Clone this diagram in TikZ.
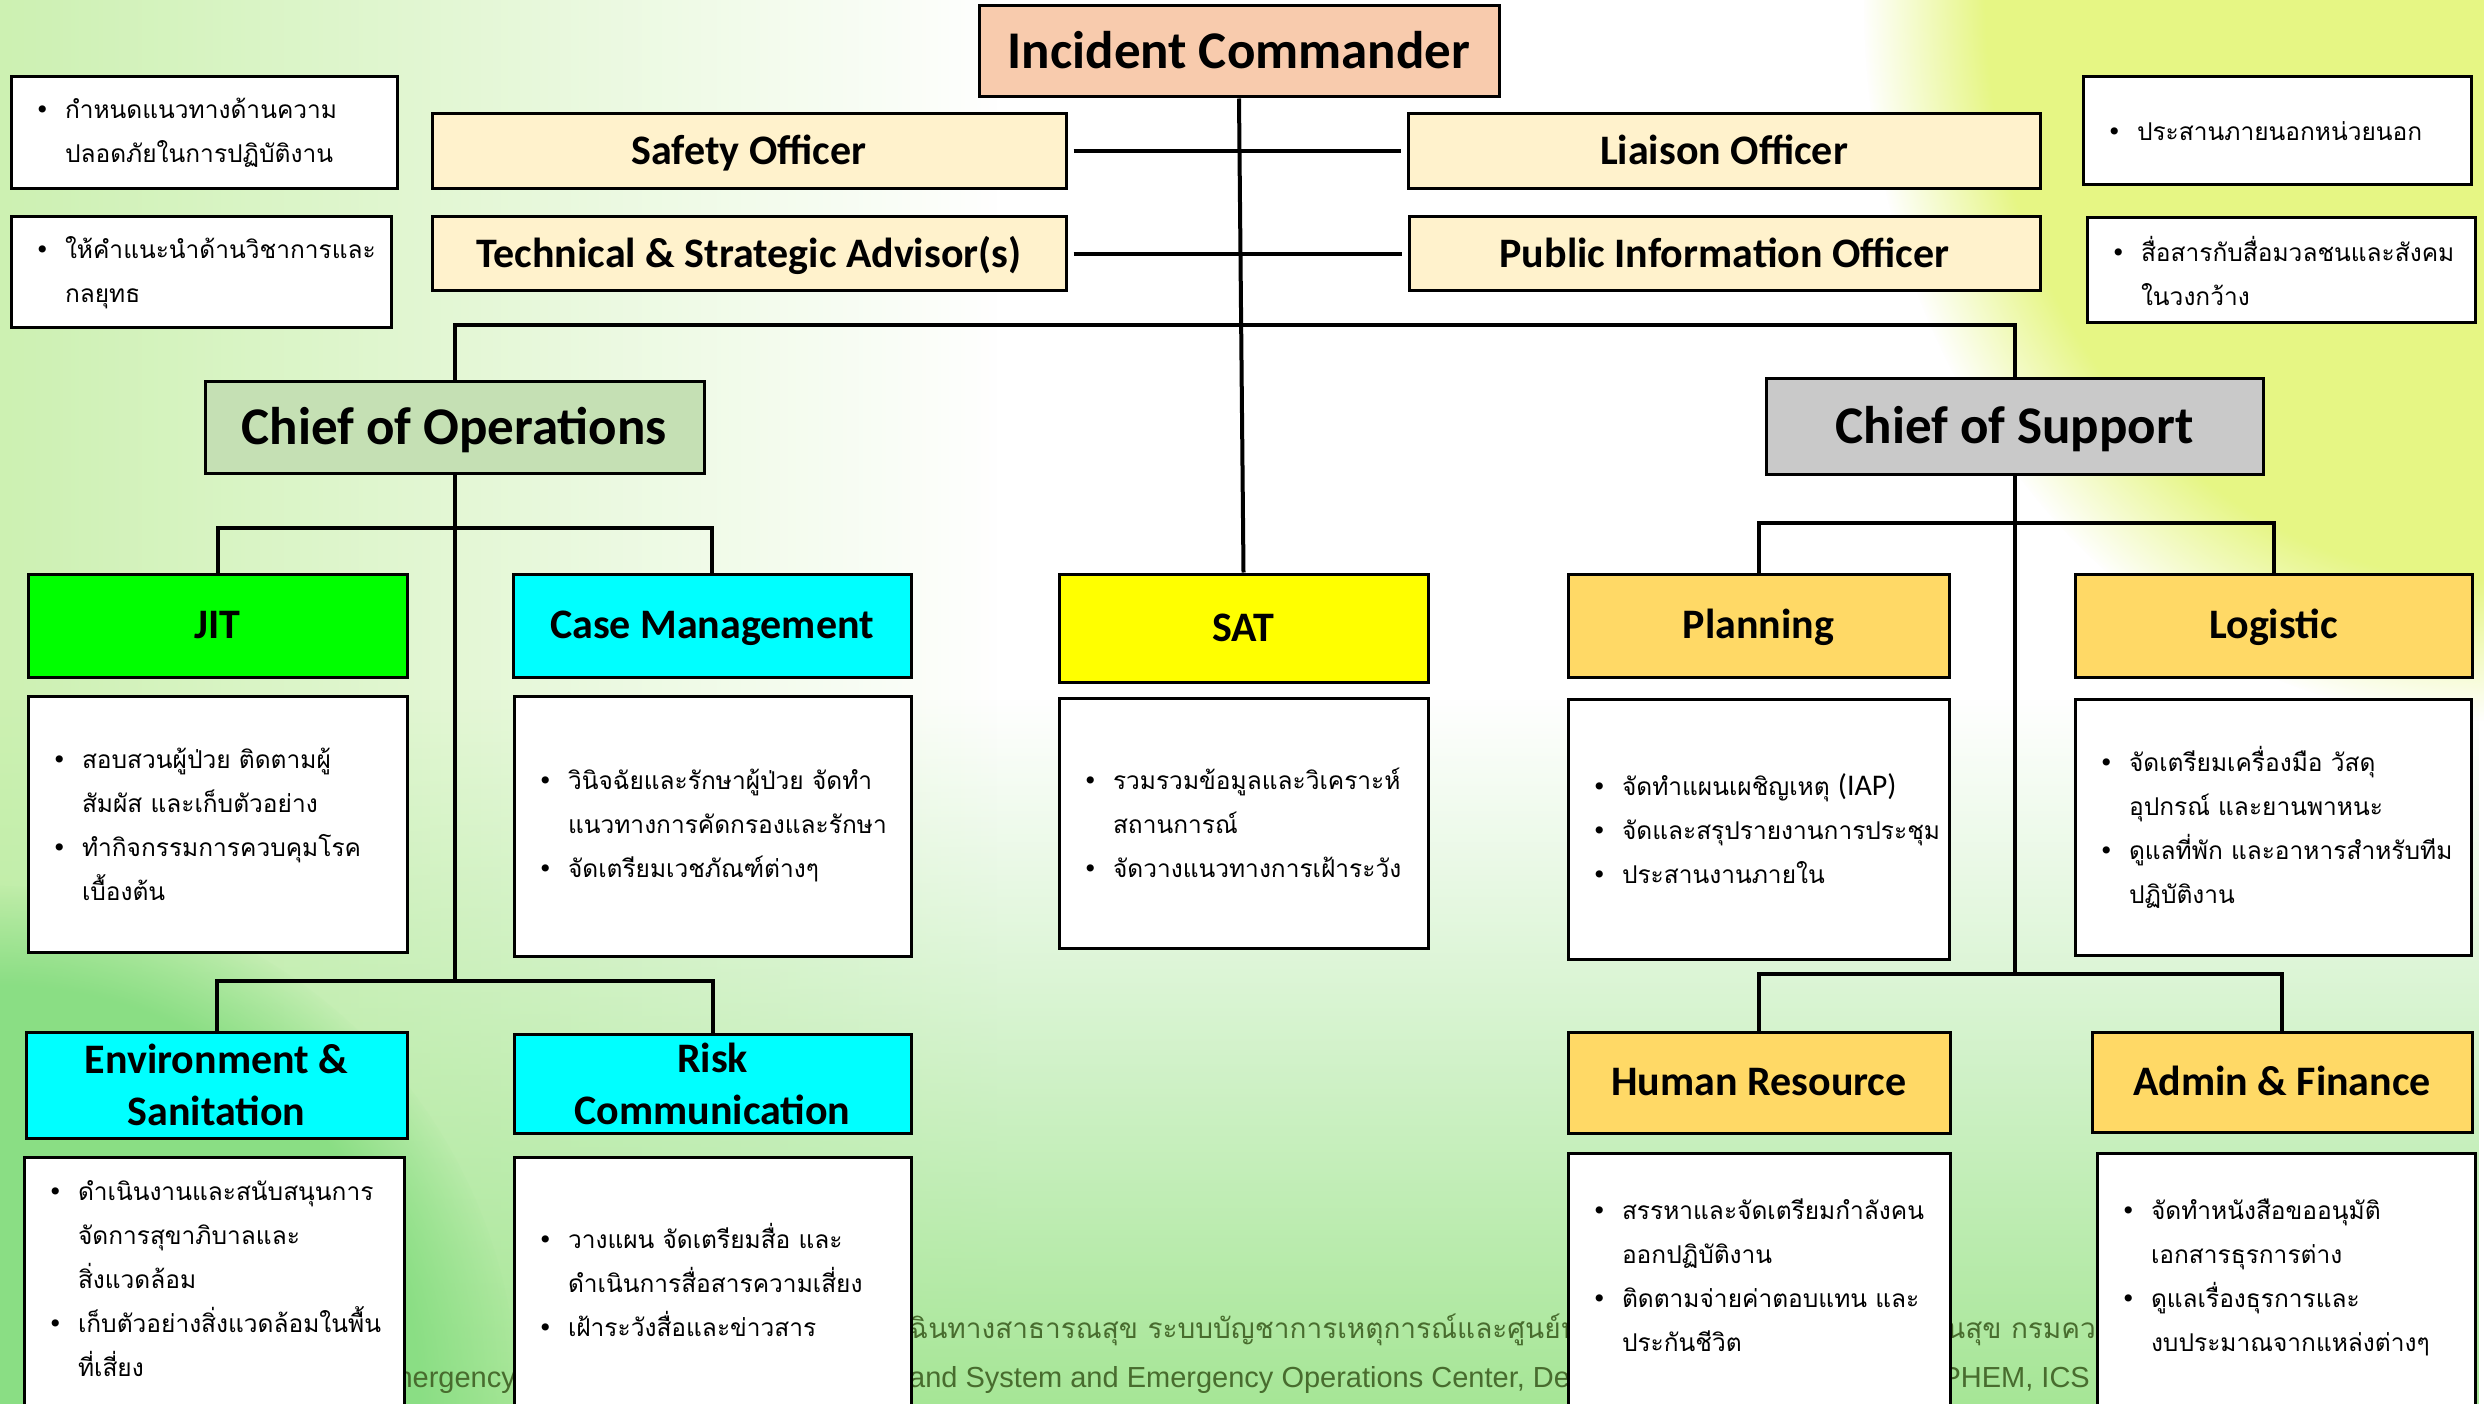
\documentclass[tikz,border=0pt]{standalone}
\usepackage{fontspec}
\setmainfont{Carlito}
\newfontfamily\thaifont[Script=Thai]{Loma}
\newfontfamily\footfont{Liberation Sans}
\newfontfamily\dotfont{DejaVu Sans}
\usepackage{tikz}
\usetikzlibrary{fadings}

\definecolor{peach}{HTML}{F8CBAD}
\definecolor{cream}{HTML}{FFF2CC}
\definecolor{sage}{HTML}{C5E0B4}
\definecolor{greybox}{HTML}{C9C9C9}
\definecolor{amber}{HTML}{FFD966}
\definecolor{lime}{HTML}{00FF00}
\definecolor{aqua}{HTML}{00FFFF}
\definecolor{lemon}{HTML}{FFFF00}
\definecolor{footgreen}{RGB}{72,108,46}
\definecolor{bgleft}{HTML}{CDF1B2}
\definecolor{bgright}{HTML}{E6F684}
\definecolor{bgbottom}{HTML}{A6E696}
\definecolor{bgdeep}{HTML}{8ADE84}

\newcommand{\bl}{\makebox[30pt][l]{\dotfont •}}
\newcommand{\hg}{\hspace*{30pt}}
\newcommand{\iap}{{\rmfamily\fontsize{30}{44}\selectfont(IAP)}}

\begin{document}
\begin{tikzpicture}[x=1pt, y=-1pt,
  box/.style 2 args={draw, line width=3pt, minimum width=#1pt, minimum height=#2pt, inner sep=0pt, align=center},
  big/.style={font=\fontsize{53}{60}\selectfont\bfseries, text height=40pt, text depth=6.5pt},
  mid/.style={font=\fontsize{42}{52}\selectfont\bfseries, text height=32pt, text depth=5.5pt},
  midtwo/.style={font=\fontsize{42}{52}\selectfont\bfseries},
  note/.style 2 args={draw, line width=3pt, fill=white, minimum width=#1pt, minimum height=#2pt, text width=#1pt-48pt, inner xsep=24pt, inner ysep=0pt, align=left, font=\thaifont\fontsize{24.5}{44}\selectfont},
  foot/.style={text=footgreen, inner sep=0pt, font=\footfont\fontsize{29}{29}\selectfont},
  footth/.style={text=footgreen, inner sep=0pt, font=\thaifont\fontsize{28}{28}\selectfont},
  conn/.style={line width=4pt}]
\useasboundingbox (0,0) rectangle (2484,1404);
\clip (0,0) rectangle (2484,1404);
\fill[white] (0,0) rectangle (2484,1404);
\fill[bgleft, path fading=east] (0,0) rectangle (1000,1404);
\fill[bgright, path fading=circle with fuzzy edge 20 percent] (2484,0) ellipse (620 and 720);
\fill[bgbottom, path fading=north] (0,700) rectangle (2484,1404);
\fill[bgdeep, path fading=circle with fuzzy edge 20 percent] (0,1404) circle (520);

\node[foot, anchor=base east] (f1) at (516,1387) {nergency};
\node[foot, anchor=base west] (f2) at (909,1387) {and System and Emergency Operations Center, De};
\node[foot, anchor=base east] (f3) at (2090,1387) {PHEM, ICS};
\node[footth, anchor=base west] (f4) at (909,1338) {ฉินทางสาธารณสุข ระบบบัญชาการเหตุการณ์และศูนย์ป};
\node[footth, anchor=base west] (f5) at (1946,1338) {นสุข กรมคว};

\node[box={520}{91}, big, fill=peach] (ic) at (1239,51.5) {Incident Commander};
\node[box={634}{75}, mid, fill=cream] (so) at (749,151.5) {Safety Officer};
\node[box={634}{74}, mid, fill=cream] (tsa) at (749,254) {Technical \& Strategic Advisor(s)};
\node[box={632}{75}, mid, fill=cream] (lo) at (1724,151.5) {Liaison Officer};
\node[box={631}{74}, mid, fill=cream] (pio) at (1724.5,254) {Public Information Officer};
\node[note={386}{112}] (nso) at (204,133) {\bl กำหนดแนวทางด้านความ\\\hg ปลอดภัยในการปฏิบัติงาน};
\node[note={380}{111}] (ntsa) at (201,272.5) {\bl ให้คำแนะนำด้านวิชาการและ\\\hg กลยุทธ};
\node[note={388}{108}] (nlo) at (2277,131) {\bl ประสานภายนอกหน่วยนอก};
\node[note={388}{105}] (npio) at (2281,270.5) {\bl สื่อสารกับสื่อมวลชนและสังคม\\\hg ในวงกว้าง};

\node[box={499}{91}, big, fill=sage] (ops) at (454.5,427.5) {Chief of Operations};
\node[box={497}{95}, big, fill=greybox] (sup) at (2014.5,426.5) {Chief of Support};

\node[box={379}{103}, mid, fill=lime] (jit) at (217.5,625.5) {JIT};
\node[box={398}{103}, mid, fill=aqua] (cm) at (712,625.5) {Case Management};
\node[box={369}{108}, mid, fill=lemon] (sat) at (1243.5,628) {SAT};
\node[box={381}{103}, mid, fill=amber] (pl) at (1758.5,625.5) {Planning};
\node[box={397}{103}, mid, fill=amber] (lg) at (2273.5,625.5) {Logistic};
\node[note={379}{256}] (jitd) at (217.5,824) {\bl สอบสวนผู้ป่วย~ติดตามผู้\\\hg สัมผัส~และเก็บตัวอย่าง\\\bl ทำกิจกรรมการควบคุมโรค\\\hg เบื้องต้น};
\node[note={397}{260}] (cmd) at (712.5,826) {\bl วินิจฉัยและรักษาผู้ป่วย~จัดทำ\\\hg แนวทางการคัดกรองและรักษา\\\bl จัดเตรียมเวชภัณฑ์ต่างๆ};
\node[note={369}{250}] (satd) at (1243.5,823) {\bl รวมรวมข้อมูลและวิเคราะห์\\\hg สถานการณ์\\\bl จัดวางแนวทางการเฝ้าระวัง};
\node[note={381}{260}] (pld) at (1758.5,829) {\bl จัดทำแผนเผชิญเหตุ~\iap\\\bl จัดและสรุปรายงานการประชุม\\\bl ประสานงานภายใน};
\node[note={396}{256}] (lgd) at (2273,827) {\bl จัดเตรียมเครื่องมือ~วัสดุ\\\hg อุปกรณ์~และยานพาหนะ\\\bl ดูแลที่พัก~และอาหารสำหรับทีม\\\hg ปฏิบัติงาน};

\node[box={381}{106}, midtwo, fill=aqua] (env) at (216.5,1085) {Environment \&\\Sanitation};
\node[box={397}{99}, midtwo, fill=aqua] (rc) at (712.5,1083.5) {Risk\\Communication};
\node[box={382}{101}, mid, fill=amber] (hr) at (1759,1082.5) {Human Resource};
\node[box={380}{100}, mid, fill=amber] (af) at (2282,1082) {Admin \& Finance};
\node[note={380}{297}] (envd) at (214,1305.5) {\bl ดำเนินงานและสนับสนุนการ\\\hg จัดการสุขาภิบาลและ\\\hg สิ่งแวดล้อม\\\bl เก็บตัวอย่างสิ่งแวดล้อมในพื้น\\\hg ที่เสี่ยง\\[10pt]\mbox{}};
\node[note={397}{297}] (rcd) at (712.5,1305.5) {\bl วางแผน~จัดเตรียมสื่อ~และ\\\hg ดำเนินการสื่อสารความเสี่ยง\\\bl เฝ้าระวังสื่อและข่าวสาร\\[8pt]\mbox{}};
\node[note={382}{297}] (hrd) at (1759,1301.5) {\bl สรรหาและจัดเตรียมกำลังคน\\\hg ออกปฏิบัติงาน\\\bl ติดตามจ่ายค่าตอบแทน~และ\\\hg ประกันชีวิต\\[9pt]\mbox{}};
\node[note={378}{297}] (afd) at (2286,1301.5) {\bl จัดทำหนังสือขออนุมัติ\\\hg เอกสารธุรการต่าง\\\bl ดูแลเรื่องธุรการและ\\\hg งบประมาณจากแหล่งต่างๆ\\[9pt]\mbox{}};

\coordinate (bar1) at (0,325);
\coordinate (bar2) at (0,528);
\coordinate (bar3) at (0,981);
\coordinate (bar4) at (0,523);
\coordinate (bar5) at (0,974);
\draw[conn] (ic.south) -- (sat.north);
\draw[conn, shorten <=6pt, shorten >=6pt] (so.east) -- (lo.west);
\draw[conn, shorten <=6pt, shorten >=6pt] (tsa.east) -- (pio.west);
\draw[conn] (ops.north) -- (ops.north |- bar1) -- (sup.north |- bar1) -- (sup.north);
\draw[conn] (ops.south) -- (ops.south |- bar3);
\draw[conn] (jit.north) -- (jit.north |- bar2) -- (cm.north |- bar2) -- (cm.north);
\draw[conn] (env.north) -- (env.north |- bar3) -- (rc.north |- bar3) -- (rc.north);
\draw[conn] (sup.south) -- (sup.south |- bar5);
\draw[conn] (pl.north) -- (pl.north |- bar4) -- (lg.north |- bar4) -- (lg.north);
\draw[conn] (hr.north) -- (hr.north |- bar5) -- (af.north |- bar5) -- (af.north);
\end{tikzpicture}
\end{document}
